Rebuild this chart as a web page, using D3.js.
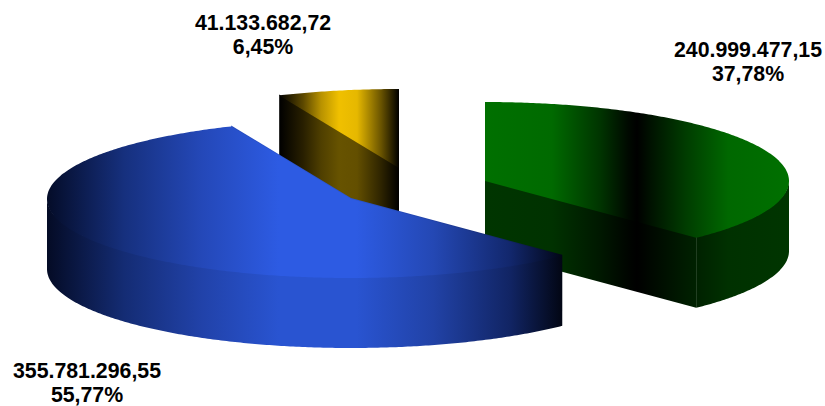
<!DOCTYPE html>
<html>
<head>
<meta charset="utf-8">
<script src="https://cdn.jsdelivr.net/npm/d3@7/dist/d3.min.js"></script>
<style>
    html, body { margin: 0; padding: 0; background: #fff; }
    svg { display: block; }
    text { font-family: "Liberation Sans", Arial, sans-serif; font-weight: bold; font-size: 21.3px; fill: #000; text-anchor: middle; }
</style>
</head>
<body>
<svg id="chart" width="825" height="406"></svg>
<script>
var sliceNames = ["green", "blue", "yellow"];
var sliceValues = [240999477.15, 355781296.55, 41133682.72];
var valueLabels = ["240.999.477,15", "355.781.296,55", "41.133.682,72"];
var percentLabels = ["37,78%", "55,77%", "6,45%"];

var _width = 825, _height = 406;
var _depth = 70;
// exploded slice centres on the top plane
var _centers = {green: [485, 181], blue: [351, 199], yellow: [399, 168]};
var _labelPos = {green: [748, 57], blue: [87, 378], yellow: [263, 30]};
var _lineGap = 24;

// tilted pie: unit circle to pixels
var _x = d3.scaleLinear().domain([-1, 1]).range([-304, 304]);
var _y = d3.scaleLinear().domain([-1, 1]).range([-79, 79]);

var _topStops = {
    green: [[0, "#007000"], [0.22, "#006a00"], [0.38, "#003400"], [0.47, "#000a00"], [0.5, "#000000"], [0.55, "#001400"], [0.66, "#003c00"], [0.8, "#006800"], [1, "#007000"]],
    blue: [[0, "#040c28"], [0.15, "#16307e"], [0.3, "#2448b8"], [0.45, "#2d5be3"], [0.6, "#2d5be3"], [0.75, "#2448b4"], [0.9, "#12276c"], [1, "#020616"]],
    yellow: [[0, "#000000"], [0.2, "#5c4800"], [0.35, "#b89200"], [0.5, "#f0c000"], [0.65, "#e6b800"], [0.85, "#6a5400"], [1, "#000000"]]
};
var _sideDim = {green: 0.47, blue: 0.92, yellow: 0.43};

var svg = d3.select("#chart");
var defs = svg.append("defs");

function _dim(color, k) {
    var c = d3.rgb(color);
    return d3.rgb(c.r * k, c.g * k, c.b * k).formatHex();
}

function _gradient(id, name, k, x0, x1) {
    var g = defs.append("linearGradient")
        .attr("id", id)
        .attr("gradientUnits", "userSpaceOnUse")
        .attr("x1", x0).attr("y1", 0)
        .attr("x2", x1).attr("y2", 0);
    g.selectAll("stop")
        .data(_topStops[name])
        .enter()
        .append("stop")
        .attr("offset", function(d) { return d[0]; })
        .attr("stop-color", function(d) { return _dim(d[1], k); });
}

// angle measured clockwise from the back of the pie
function _rim(c, a, drop) {
    return [c[0] + _x(Math.sin(a)), c[1] + _y(-Math.cos(a)) + (drop || 0)];
}

function _arcPoints(c, a0, a1, drop) {
    var n = Math.max(2, Math.ceil(Math.abs(a1 - a0) / 0.01));
    return d3.range(n + 1).map(function(i) {
        return _rim(c, a0 + (a1 - a0) * i / n, drop);
    });
}

var line = d3.line();
var pie = d3.pie().sort(null).startAngle(0).endAngle(2 * Math.PI);
var slices = pie(sliceValues).map(function(d, i) {
    return {name: sliceNames[i], a0: d.startAngle, a1: d.endAngle, i: i};
});

function _drawSlice(s) {
    var c = _centers[s.name];
    var pts = _arcPoints(c, s.a0, s.a1);
    var xs = pts.map(function(p) { return p[0]; }).concat([c[0]]);
    var x0 = d3.min(xs), x1 = d3.max(xs);
    _gradient("top-" + s.name, s.name, 1, x0, x1);
    _gradient("side-" + s.name, s.name, _sideDim[s.name], x0, x1);
    var sideFill = "url(#side-" + s.name + ")";

    // cut faces, dropped by the pie depth; start 1px high so no seam shows under the top
    [s.a0, s.a1].forEach(function(a) {
        var p = _rim(c, a);
        svg.append("path")
            .attr("d", line([[c[0], c[1] - 1], [p[0], p[1] - 1], [p[0], p[1] + _depth], [c[0], c[1] + _depth]]) + "Z")
            .attr("fill", sideFill);
    });

    // outer wall, only the part facing the viewer
    var w0 = Math.max(s.a0, Math.PI / 2), w1 = Math.min(s.a1, 3 * Math.PI / 2);
    if (w1 > w0) {
        var upper = _arcPoints(c, w0, w1, -1);
        var lower = _arcPoints(c, w1, w0, _depth);
        svg.append("path")
            .attr("d", line(upper.concat(lower)) + "Z")
            .attr("fill", sideFill);
    }

    svg.append("path")
        .attr("d", line([c].concat(pts)) + "Z")
        .attr("fill", "url(#top-" + s.name + ")");
}

// back to front
["yellow", "green", "blue"].forEach(function(name) {
    _drawSlice(slices[sliceNames.indexOf(name)]);
});

slices.forEach(function(s) {
    var p = _labelPos[s.name];
    svg.append("text").attr("x", p[0]).attr("y", p[1]).text(valueLabels[s.i]);
    svg.append("text").attr("x", p[0]).attr("y", p[1] + _lineGap).text(percentLabels[s.i]);
});
</script>
</body>
</html>
